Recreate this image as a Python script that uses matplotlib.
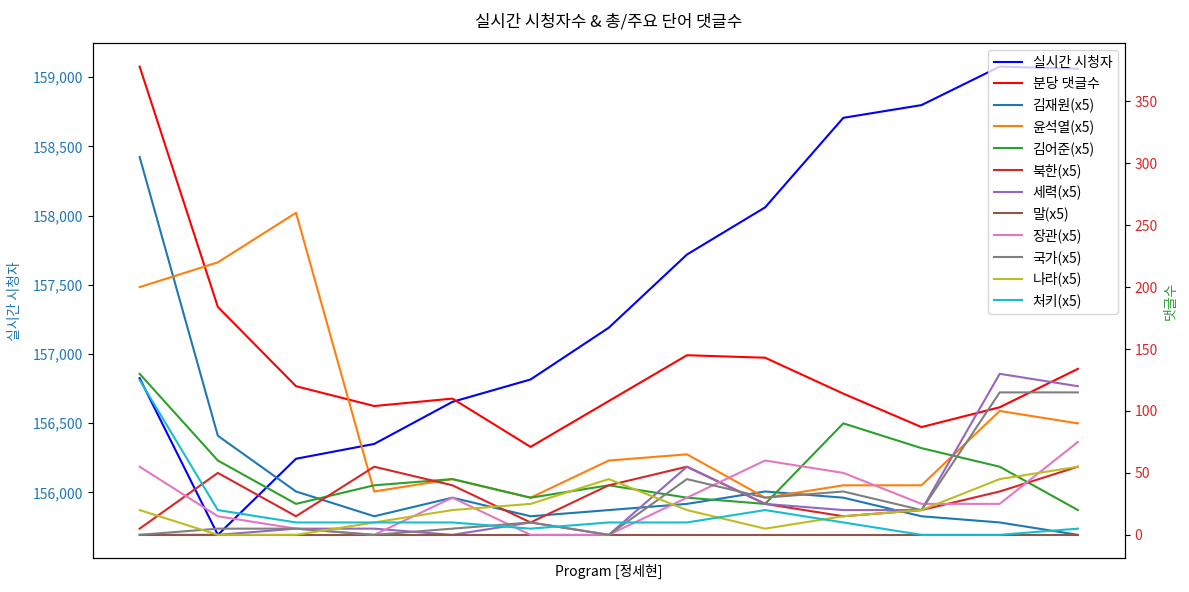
import matplotlib
matplotlib.use("Agg")
import matplotlib.pyplot as plt
from matplotlib.ticker import FuncFormatter

plt.rcParams['font.family'] = ['Noto Sans CJK KR', 'DejaVu Sans']
plt.rcParams['axes.unicode_minus'] = False

# ---------------- data ----------------
viewers = [156825, 155693, 156243, 156350, 156654, 156816, 157190,
           157719, 158060, 158707, 158799, 159077, 159062]
comments_per_min = [378, 184, 120, 104, 110, 71, 108, 145, 143, 114, 87, 103, 134]

word_labels = ['김재원', '윤석열', '김어준', '북한', '세력', '말', '장관', '국가', '나라', '처키']
kim_jaewon = [305, 80, 35, 15, 30, 15, 20, 25, 35, 30, 15, 10, 0]
yoon = [200, 220, 260, 35, 45, 30, 60, 65, 30, 40, 40, 100, 90]
kim_eojun = [130, 60, 25, 40, 45, 30, 40, 30, 25, 90, 70, 55, 20]
bukhan = [5, 50, 15, 55, 40, 10, 40, 55, 25, 15, 20, 35, 55]
seryeok = [0, 0, 5, 5, 0, 10, 0, 55, 25, 20, 20, 130, 120]
mal = [0, 0, 0, 0, 0, 0, 0, 0, 0, 0, 0, 0, 0]
janggwan = [55, 15, 5, 0, 30, 0, 0, 30, 60, 50, 25, 25, 75]
gukga = [0, 5, 5, 0, 5, 10, 0, 45, 30, 35, 20, 115, 115]
nara = [20, 0, 0, 10, 20, 25, 45, 20, 5, 15, 20, 45, 55]
chucky = [125, 20, 10, 10, 10, 5, 10, 10, 20, 10, 0, 0, 5]
word_series = [kim_jaewon, yoon, kim_eojun, bukhan, seryeok, mal,
               janggwan, gukga, nara, chucky]

x = list(range(len(viewers)))

# ---------------- plot ----------------
fig, ax1 = plt.subplots(figsize=(11.89, 5.92), dpi=100)

l1, = ax1.plot(x, viewers, color='blue', label='실시간 시청자')
ax1.set_ylabel('실시간 시청자', color='tab:blue', labelpad=8)
ax1.tick_params(axis='y', labelcolor='tab:blue')
ax1.yaxis.set_major_formatter(FuncFormatter(lambda v, p: f'{int(v):,}'))
ax1.set_xticks([])
ax1.set_xlabel('Program [정세현]')

ax2 = ax1.twinx()
lines = [l1]
l2, = ax2.plot(x, comments_per_min, color='red', label='분당 댓글수')
lines.append(l2)
for i, (name, vals) in enumerate(zip(word_labels, word_series)):
    ln, = ax2.plot(x, vals, color=f'C{i}', label=f'{name}(x5)')
    lines.append(ln)
ax2.set_ylabel('댓글수', color='tab:green', labelpad=4)
ax2.tick_params(axis='y', labelcolor='tab:red')

ax2.legend(lines, [l.get_label() for l in lines], loc='upper right')

plt.title('실시간 시청자수 & 총/주요 단어 댓글수', pad=12)
fig.subplots_adjust(left=0.078, right=0.946, top=0.927, bottom=0.057)
plt.savefig('out.png')
